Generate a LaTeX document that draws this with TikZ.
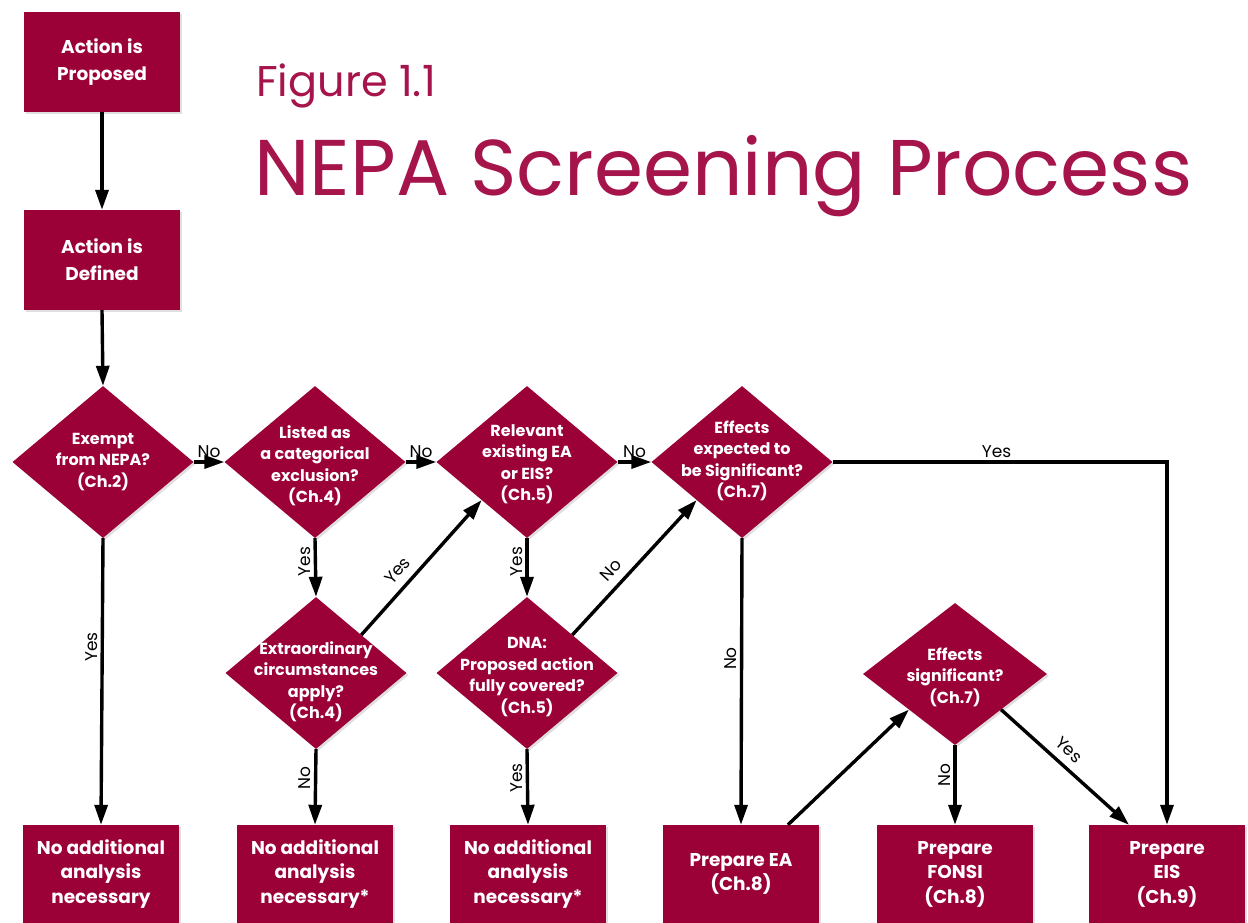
\documentclass[tikz,border=0pt]{standalone}
\usepackage{fontspec}
\setmainfont{Poppins}
\usetikzlibrary{shapes.geometric,arrows.meta,shadows,calc}
\definecolor{nepa}{RGB}{155,0,55}
\definecolor{titlec}{RGB}{165,20,75}
\begin{document}
\begin{tikzpicture}[x=1pt,y=-1pt,
  shade/.style={drop shadow={opacity=0.25, shadow xshift=2pt, shadow yshift=-2pt}},
  box/.style={rectangle, fill=nepa, shade, minimum width=156pt, minimum height=100pt, inner sep=0pt,
    text=white, align=center, font=\bfseries\fontsize{18.5}{27}\selectfont},
  lowbox/.style={box, minimum height=98pt, font=\bfseries\fontsize{18.5}{24.5}\selectfont},
  dia/.style={diamond, fill=nepa, shade, minimum width=181pt, minimum height=152pt, inner sep=0pt},
  dtext/.style={text=white, align=center, font=\bfseries\fontsize{16}{21.5}\selectfont},
  conn/.style={line width=3.4pt, -{Triangle[length=20pt,width=13pt]}},
  lbl/.style={font=\fontsize{17}{19}\selectfont, inner sep=3pt},
]
\useasboundingbox (0,0) rectangle (1248,923);
\fill[white] (0,0) rectangle (1248,923);

% title
\node[anchor=base west, text=titlec, font=\fontsize{43}{45}\selectfont, inner sep=0pt] (fig) at (256,97) {Figure 1.1};
\node[anchor=base west, text=titlec, font=\fontsize{79}{84}\selectfont, inner sep=0pt] (ttl) at (254,195) {NEPA Screening Process};

% boxes
\node[box] (ap) at (102,62) {Action is\\Proposed};
\node[box] (ad) at (102,260) {Action is\\Defined};

% diamonds
\node[dia] (d1) at (103,462) {};
\node[dtext] (d1t) at (103,462) {Exempt\\from NEPA?\\(Ch.2)};
\node[dia] (d2) at (315,462) {};
\node[dtext] (d2t) at (315,466) {Listed as\\a categorical\\exclusion?\\(Ch.4)};
\node[dia] (d3) at (527,462) {};
\node[dtext] (d3t) at (527,464) {Relevant\\existing EA\\or EIS?\\(Ch.5)};
\node[dia] (d4) at (742,462) {};
\node[dtext] (d4t) at (742,461) {Effects\\expected to\\be Significant?\\(Ch.7)};
\node[dia] (d5) at (316,673) {};
\node[dtext] (d5t) at (316,682) {Extraordinary\\circumstances\\apply?\\(Ch.4)};
\node[dia] (d6) at (527,673) {};
\node[dtext] (d6t) at (527,677) {DNA:\\Proposed action\\fully covered?\\(Ch.5)};
\node[dia, minimum width=184pt, minimum height=142pt] (d7) at (955,674) {};
\node[dtext] (d7t) at (955,677) {Effects\\significant?\\(Ch.7)};

% bottom boxes
\node[lowbox] (b1) at (101,874) {No additional\\analysis\\necessary};
\node[lowbox] (b2) at (315,874) {No additional\\analysis\\necessary*};
\node[lowbox] (b3) at (528,874) {No additional\\analysis\\necessary*};
\node[lowbox] (b4) at (741,874) {Prepare EA\\(Ch.8)};
\node[lowbox] (b5) at (955,874) {Prepare\\FONSI\\(Ch.8)};
\node[lowbox] (b6) at (1167,874) {Prepare\\EIS\\(Ch.9)};

% connectors
\draw[conn] (ap.south) -- (ad.north);
\draw[conn] (ad.south) -- (d1.north);
\draw[conn] (d1.east) -- node[lbl, above] {No} (d2.west);
\draw[conn] (d2.east) -- node[lbl, above] {No} (d3.west);
\draw[conn] (d3.east) -- node[lbl, above] {No} (d4.west);
\draw[conn] (d1.south) -- node[lbl, pos=0.38, rotate=90, anchor=south] {Yes} (b1.north);
\draw[conn] (d2.south) -- node[lbl, pos=0.4, rotate=90, anchor=south] {Yes} (d5.north);
\draw[conn] (d3.south) -- node[lbl, pos=0.4, rotate=90, anchor=south] {Yes} (d6.north);
\draw[conn] (d5.south) -- node[lbl, pos=0.38, rotate=90, anchor=south] {No} (b2.north);
\draw[conn] (d6.south) -- node[lbl, pos=0.38, rotate=90, anchor=south] {Yes} (b3.north);
\draw[conn] (d4.south) -- node[lbl, pos=0.42, rotate=90, anchor=south] {No} (b4.north);
\draw[conn] (d7.south) -- node[lbl, pos=0.38, rotate=90, anchor=south] {No} (b5.north);
\draw[conn] (d5.north east) -- node[lbl, pos=0.4, sloped, above=5pt] {Yes} (d3.south west);
\draw[conn] (d6.north east) -- node[lbl, pos=0.4, sloped, above=5pt] {No} (d4.south west);
\draw[conn] ($(b4.north)!0.6!(b4.north east)$) -- (d7.south west);
\coordinate (b6in) at ($(b6.north)+(-38,0)$);
\draw[conn] (d7.south east) -- node[lbl, pos=0.45, sloped, above=5pt] {Yes} (b6in);
\draw[conn] (d4.east) -| node[lbl, pos=0.245, above] {Yes} (b6.north);
\end{tikzpicture}
\end{document}
